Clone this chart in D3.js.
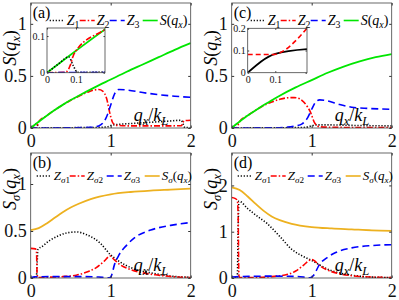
<!DOCTYPE html>
<html>
<head>
<meta charset="utf-8">
<script src="https://cdn.jsdelivr.net/npm/d3@7"></script>
<style>
  body { margin: 0; background: #fff; }
  svg text { font-family: "Liberation Serif", "DejaVu Serif", serif; }
</style>
</head>
<body>
<script>
// ---- data: [q_x/k_L, value] ----
// panel (a)
const a_Z1 = [[0,0],[0.04,0.024],[0.075,0.043],[0.09,0.02],[0.105,0.001],[0.2,0.002],[0.5,0.003],[0.8,0.005],[0.95,0.01],[1.02,0.028],[1.1,0.035],[1.3,0.045],[1.5,0.055],[1.7,0.065],[1.88,0.074],[1.93,0.004],[2,0.003]];
const a_Z2 = [[0,0],[0.06,0.001],[0.07,0.004],[0.08,0.02],[0.09,0.045],[0.1,0.06],[0.2,0.118],[0.3,0.172],[0.4,0.222],[0.5,0.266],[0.6,0.305],[0.7,0.34],[0.8,0.366],[0.85,0.37],[0.9,0.355],[0.95,0.28],[0.99,0.14],[1.03,0.045],[1.08,0.025],[1.3,0.02],[1.6,0.02],[1.88,0.022],[1.92,0.07],[2,0.075]];
const a_Z3 = [[0,0],[0.5,0.002],[0.75,0.006],[0.85,0.02],[0.9,0.045],[0.95,0.11],[1,0.22],[1.05,0.33],[1.1,0.37],[1.2,0.365],[1.4,0.34],[1.6,0.32],[1.8,0.305],[2,0.295]];
const a_S  = [[0,0],[0.1,0.06],[0.2,0.118],[0.3,0.172],[0.4,0.222],[0.5,0.268],[0.6,0.31],[0.8,0.39],[1,0.465],[1.2,0.54],[1.4,0.61],[1.6,0.68],[1.8,0.75],[2,0.815]];
// panel (c)
const c_Z1 = [[0,0],[0.5,0.002],[0.9,0.005],[1,0.02],[1.05,0.03],[1.2,0.03],[1.5,0.025],[2,0.02]];
const c_Z2 = [[0,0],[0.06,0.001],[0.075,0.02],[0.09,0.05],[0.1,0.062],[0.2,0.12],[0.3,0.17],[0.4,0.215],[0.5,0.25],[0.6,0.275],[0.7,0.29],[0.78,0.292],[0.85,0.28],[0.9,0.25],[0.95,0.2],[0.98,0.16],[1.04,0.045],[1.1,0.012],[1.3,0.006],[2,0.004]];
const c_Z3 = [[0,0],[0.5,0.002],[0.7,0.008],[0.8,0.02],[0.88,0.04],[0.95,0.1],[1,0.18],[1.05,0.25],[1.1,0.27],[1.2,0.26],[1.35,0.225],[1.5,0.2],[1.7,0.188],[2,0.18]];
const c_S  = [[0,0],[0.1,0.062],[0.2,0.12],[0.3,0.17],[0.4,0.22],[0.5,0.265],[0.6,0.31],[0.8,0.39],[1,0.46],[1.2,0.53],[1.4,0.59],[1.6,0.64],[1.8,0.68],[2,0.71]];
// inset of (c)
const c_inK = [[0,0],[0.1,0.085],[0.215,0.106]];
const c_inR = [[0,0.082],[0.09,0.082],[0.215,0.2]];
// panel (b)
const b_Z1 = [[0,0],[0.07,0.002],[0.08,0.15],[0.09,0.3],[0.15,0.34],[0.24,0.4],[0.35,0.45],[0.45,0.48],[0.575,0.49],[0.7,0.46],[0.87,0.37],[1,0.245],[1.1,0.18],[1.28,0.1],[1.5,0.055],[1.75,0.02],[2,0.008]];
const b_Z2 = [[0,0.315],[0.06,0.31],[0.072,0.29],[0.08,0.05],[0.09,0.005],[0.2,0.008],[0.4,0.015],[0.57,0.03],[0.72,0.07],[0.82,0.11],[0.92,0.18],[0.99,0.234],[1.05,0.19],[1.12,0.14],[1.25,0.09],[1.4,0.055],[1.6,0.03],[1.8,0.012],[2,0.005]];
const b_Z3 = [[0,0],[0.05,0.012],[0.3,0.015],[0.6,0.015],[0.85,0.01],[0.97,0.002],[1.0,0.01],[1.05,0.15],[1.1,0.24],[1.2,0.35],[1.3,0.43],[1.5,0.51],[1.75,0.56],[2,0.59]];
const b_S  = [[0,0.51],[0.1,0.53],[0.2,0.58],[0.3,0.64],[0.4,0.7],[0.5,0.75],[0.6,0.79],[0.75,0.84],[1,0.89],[1.25,0.915],[1.5,0.93],[1.75,0.94],[2,0.95]];
// panel (d)
const d_Z1 = [[0,0],[0.07,0.01],[0.08,1.0],[0.09,1.66],[0.2,1.5],[0.3,1.36],[0.44,1.18],[0.6,0.9],[0.75,0.62],[0.9,0.46],[1,0.38],[1.1,0.28],[1.2,0.19],[1.3,0.13],[1.5,0.06],[1.75,0.02],[2,0.01]];
const d_Z2 = [[0,1.74],[0.04,1.72],[0.07,1.68],[0.08,1.4],[0.09,0.05],[0.1,0.01],[0.3,0.012],[0.5,0.03],[0.7,0.08],[0.8,0.15],[0.9,0.28],[0.97,0.38],[1,0.4],[1.05,0.35],[1.1,0.27],[1.2,0.17],[1.35,0.09],[1.5,0.05],[1.75,0.02],[2,0.01]];
const d_Z3 = [[0,0.02],[0.1,0.03],[0.5,0.04],[0.8,0.035],[0.9,0.02],[0.97,0.002],[1.02,0.05],[1.1,0.3],[1.2,0.45],[1.3,0.55],[1.5,0.65],[1.75,0.7],[2,0.72]];
const d_S  = [[0,1.96],[0.1,1.9],[0.2,1.76],[0.3,1.6],[0.4,1.45],[0.5,1.33],[0.6,1.25],[0.75,1.17],[1,1.1],[1.25,1.07],[1.5,1.05],[1.75,1.03],[2,1.02]];

const xTicks = [0, 1, 2];
const yTicksAB = [0, 0.5, 1];
const yTicksD = [0, 1, 2];
const insetTicks = [0, 0.1];
const insetTicksC = [0, 0.1, 0.2];

// Styles
const RED = '#ff0000', BLUE = '#0000ff', GREEN = '#00e600', GOLD = '#edb120';
const DOT = '1.2,1.8', DASHDOT = '6,2,1.5,2', DASH = '7,4';
const SERIF = '"Liberation Serif", "DejaVu Serif", serif';

const svg = d3.select('body').append('svg')
  .attr('width', 399).attr('height', 300);

// label helper: italic symbols, subscripts shifted with dy
function addLabel(t, parts, fs) {
  t.attr('font-family', SERIF).style('font-size', fs + 'px');
  let down = false;
  parts.forEach(p => {
    const s = t.append('tspan').text(p.t);
    if (p.i) s.attr('font-style', 'italic');
    if (p.sub) {
      s.style('font-size', (fs * 0.7) + 'px');
      if (!down) { s.attr('dy', fs * 0.22); down = true; }
    } else if (down) { s.attr('dy', -fs * 0.22); down = false; }
  });
}
const Zlab = n => [{t: 'Z', i: 1}, {t: n, sub: 1}];
const Zslab = n => [{t: 'Z', i: 1}, {t: 'σ', sub: 1, i: 1}, {t: n, sub: 1}];
const Slab = [{t: 'S', i: 1}, {t: '('}, {t: 'q', i: 1}, {t: 'x', i: 1, sub: 1}, {t: ')'}];
const Sslab = [{t: 'S', i: 1}, {t: 'σ', i: 1, sub: 1}, {t: '('}, {t: 'q', i: 1}, {t: 'x', i: 1, sub: 1}, {t: ')'}];
const Xlab = [{t: 'q', i: 1}, {t: 'x', i: 1, sub: 1}, {t: '/'}, {t: 'k', i: 1}, {t: 'L', i: 1, sub: 1}];

let clipId = 0;
function drawAxes(g, x, y, xt, yt, fs, len, pad, fmt) {
  const [x0, x1] = x.range(), [y1, y0] = y.range();
  const clean = s => s.call(a => a.select('.domain').remove())
    .call(a => a.selectAll('line').attr('stroke', '#333'))
    .call(a => a.selectAll('text').attr('fill', '#111').attr('font-family', SERIF).style('font-size', fs + 'px'));
  g.append('g').attr('transform', `translate(0,${y1})`)
    .call(d3.axisBottom(x).tickValues(xt).tickSize(-len).tickPadding(pad[0]).tickFormat(fmt)).call(clean);
  g.append('g').attr('transform', `translate(0,${y0})`)
    .call(d3.axisTop(x).tickValues(xt).tickSize(-len).tickFormat('')).call(clean);
  g.append('g').attr('transform', `translate(${x0},0)`)
    .call(d3.axisLeft(y).tickValues(yt).tickSize(-len).tickPadding(pad[1]).tickFormat(fmt)).call(clean);
  g.append('g').attr('transform', `translate(${x1},0)`)
    .call(d3.axisRight(y).tickValues(yt).tickSize(-len).tickFormat('')).call(clean);
  g.append('rect').attr('x', x0).attr('y', y0).attr('width', x1 - x0).attr('height', y1 - y0)
    .attr('fill', 'none').attr('stroke', '#444').attr('stroke-width', 0.8);
}

function drawLines(g, x, y, series) {
  const id = 'clip' + (clipId++);
  const [x0, x1] = x.range(), [y1, y0] = y.range();
  g.append('clipPath').attr('id', id).append('rect')
    .attr('x', x0).attr('y', y0).attr('width', x1 - x0).attr('height', y1 - y0);
  const line = d3.line().x(d => x(d[0])).y(d => y(d[1])).curve(d3.curveMonotoneX);
  series.forEach(s => {
    g.append('path').datum(s.d).attr('d', line).attr('clip-path', `url(#${id})`)
      .attr('fill', 'none').attr('stroke', s.c).attr('stroke-width', s.dash ? 1.6 : 1.8)
      .attr('stroke-dasharray', s.dash || null);
  });
}

function panel(o) {
  const g = svg.append('g');
  const x = d3.scaleLinear().domain([0, 2]).range([o.x0, o.x0 + 160]);
  const y = d3.scaleLinear().domain([0, o.ymax]).range([o.y0 + 125, o.y0]);
  g.append('rect').attr('x', o.x0).attr('y', o.y0).attr('width', 160).attr('height', 125).attr('fill', '#fff');
  drawLines(g, x, y, o.series);
  drawAxes(g, x, y, xTicks, o.yticks, 18, 2.5, [6, 4], d => String(d));

  // panel letter
  g.append('text').attr('x', o.x0 + 2).attr('y', o.y0 + 15).attr('font-family', SERIF)
    .style('font-size', '16px').text(o.letter);

  // legend
  const ly = o.y0 + o.legY;
  o.series.forEach((s, i) => {
    const lx = o.x0 + o.leg[i];
    g.append('line').attr('x1', lx).attr('x2', lx + 15).attr('y1', ly).attr('y2', ly)
      .attr('stroke', s.c).attr('stroke-width', 1.6).attr('stroke-dasharray', s.dash || null);
    addLabel(g.append('text').attr('x', lx + 17).attr('y', ly + 4), s.lab, o.legFs);
  });

  // axis labels
  addLabel(g.append('text').attr('transform', `translate(${o.x0 - 14.5},${o.y0 + o.ylabY}) rotate(-90)`)
    .attr('text-anchor', 'middle'), o.ylab, 18);
  addLabel(g.append('text').attr('x', o.x0 + 103).attr('y', o.y0 + 118), Xlab, 18);
  return g;
}

function inset(g, o) {
  const x = d3.scaleLinear().domain(o.xd).range([o.x0, o.x1]);
  const y = d3.scaleLinear().domain(o.yd).range([o.y1, o.y0]);
  g.append('rect').attr('x', o.x0).attr('y', o.y0).attr('width', o.x1 - o.x0).attr('height', o.y1 - o.y0).attr('fill', '#fff');
  drawLines(g, x, y, o.series);
  drawAxes(g, x, y, insetTicks, o.yticks, 10, 1.5, [3, 2], d => String(d));
}

const ga = panel({x0: 30.7, y0: 3, ymax: 1.2, yticks: yTicksAB, letter: '(a)', legY: 17.5, legFs: 14,
  leg: [19, 49, 79, 112], ylab: Slab, ylabY: 45,
  series: [{d: a_Z1, c: '#000', dash: DOT, lab: Zlab('1')}, {d: a_Z2, c: RED, dash: DASHDOT, lab: Zlab('2')},
           {d: a_Z3, c: BLUE, dash: DASH, lab: Zlab('3')}, {d: a_S, c: GREEN, lab: Slab}]});
inset(ga, {x0: 47, x1: 105, y0: 28, y1: 72.7, xd: [0, 0.2], yd: [0, 0.122], yticks: insetTicks,
  series: [{d: a_S, c: GREEN}, {d: a_Z1, c: '#000', dash: DOT}, {d: a_Z2, c: RED, dash: DASHDOT}, {d: a_Z3, c: BLUE, dash: DASH}]});

const gc = panel({x0: 231.7, y0: 3, ymax: 1.2, yticks: yTicksAB, letter: '(c)', legY: 17.5, legFs: 14,
  leg: [19, 49, 79, 112], ylab: Slab, ylabY: 45,
  series: [{d: c_Z1, c: '#000', dash: DOT, lab: Zlab('1')}, {d: c_Z2, c: RED, dash: DASHDOT, lab: Zlab('2')},
           {d: c_Z3, c: BLUE, dash: DASH, lab: Zlab('3')}, {d: c_S, c: GREEN, lab: Slab}]});
inset(gc, {x0: 247.7, x1: 307, y0: 28.3, y1: 72.7, xd: [0, 0.215], yd: [0, 0.2], yticks: insetTicksC,
  series: [{d: c_inK, c: '#000'}, {d: c_inR, c: RED, dash: '5,3'}]});

panel({x0: 30.7, y0: 153, ymax: 1.33, yticks: yTicksAB, letter: '(b)', legY: 23, legFs: 13,
  leg: [6, 39, 76, 114], ylab: Sslab, ylabY: 36,
  series: [{d: b_Z1, c: '#000', dash: DOT, lab: Zslab('1')}, {d: b_Z2, c: RED, dash: DASHDOT, lab: Zslab('2')},
           {d: b_Z3, c: BLUE, dash: DASH, lab: Zslab('3')}, {d: b_S, c: GOLD, lab: Sslab}]});

panel({x0: 231.7, y0: 153, ymax: 2.7, yticks: yTicksD, letter: '(d)', legY: 23, legFs: 13,
  leg: [6, 39, 76, 114], ylab: Sslab, ylabY: 36,
  series: [{d: d_Z1, c: '#000', dash: DOT, lab: Zslab('1')}, {d: d_Z2, c: RED, dash: DASHDOT, lab: Zslab('2')},
           {d: d_Z3, c: BLUE, dash: DASH, lab: Zslab('3')}, {d: d_S, c: GOLD, lab: Sslab}]});
</script>
</body>
</html>
